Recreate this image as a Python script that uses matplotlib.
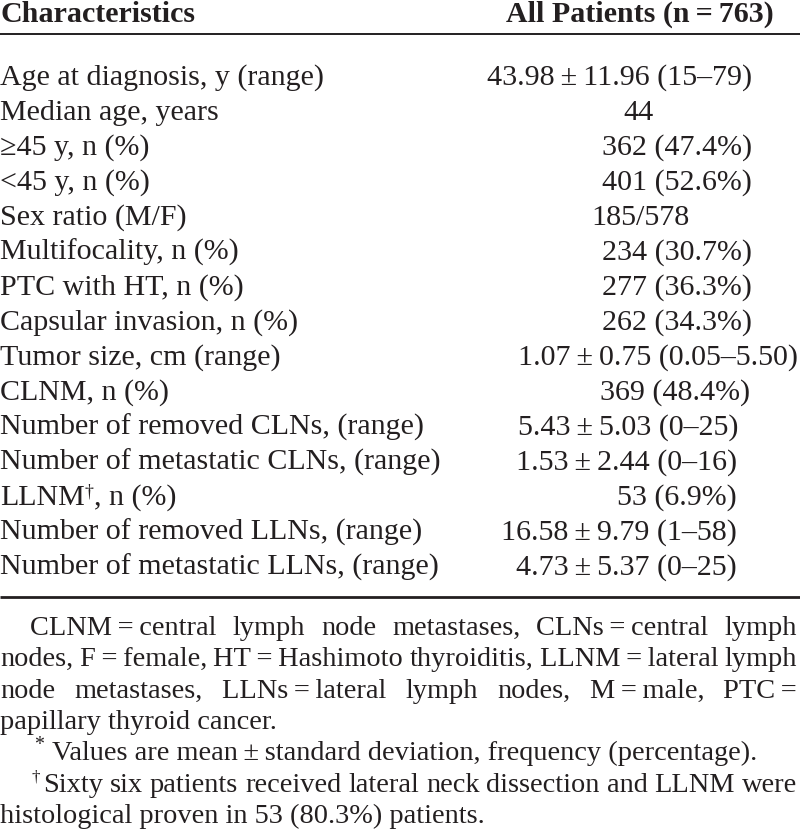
import matplotlib
matplotlib.use('Agg')
import matplotlib.pyplot as plt

plt.rcParams['font.family'] = ['Liberation Serif', 'DejaVu Serif']

INK = '#231f20'

# 表格内容
header_left = 'Characteristics'
header_right = 'All Patients (n\u2009=\u2009763)'

characteristics = [
    'Age at diagnosis, y (range)',
    'Median age, years',
    '\u226545 y, n (%)',
    '<45 y, n (%)',
    'Sex ratio (M/F)',
    'Multifocality, n (%)',
    'PTC with HT, n (%)',
    'Capsular invasion, n (%)',
    'Tumor size, cm (range)',
    'CLNM, n (%)',
    'Number of removed CLNs, (range)',
    'Number of metastatic CLNs, (range)',
    'LLNM\u2020, n (%)',
    'Number of removed LLNs, (range)',
    'Number of metastatic LLNs, (range)',
]

values = [
    '43.98\u2009\u00b1\u200911.96 (15\u201379)',
    '44',
    '362 (47.4%)',
    '401 (52.6%)',
    '185/578',
    '234 (30.7%)',
    '277 (36.3%)',
    '262 (34.3%)',
    '1.07\u2009\u00b1\u20090.75 (0.05\u20135.50)',
    '369 (48.4%)',
    '5.43\u2009\u00b1\u20095.03 (0\u201325)',
    '1.53\u2009\u00b1\u20092.44 (0\u201316)',
    '53 (6.9%)',
    '16.58\u2009\u00b1\u20099.79 (1\u201358)',
    '4.73\u2009\u00b1\u20095.37 (0\u201325)',
]

footnote_abbrev = [
    'CLNM\u2009=\u2009central lymph node metastases, CLNs\u2009=\u2009central lymph',
    'nodes, F\u2009=\u2009female, HT\u2009=\u2009Hashimoto thyroiditis, LLNM\u2009=\u2009lateral lymph',
    'node metastases, LLNs\u2009=\u2009lateral lymph nodes, M\u2009=\u2009male, PTC\u2009=',
    'papillary thyroid cancer.',
]
footnote_star = 'Values are mean\u2009\u00b1\u2009standard deviation, frequency (percentage).'
footnote_dagger = [
    'Sixty six patients received lateral neck dissection and LLNM were',
    'histological proven in 53 (80.3%) patients.',
]

# 版面参数（像素）
W, H = 800, 830
FS = 21.6
FS_NOTE = 20.4
row_y0, row_dy = 85, 35.0
note_y0, note_dy = 635, 31.3
# 数值列的对齐位置
value_anchor = [(752, 'right'), (639, 'center'), (752, 'right'), (752, 'right'),
                (640, 'center'), (752, 'right'), (752, 'right'), (752, 'right'),
                (798, 'right'), (750, 'right'), (739, 'right'), (737, 'right'),
                (737, 'right'), (737, 'right'), (737, 'right')]

fig = plt.figure(figsize=(W / 100, H / 100), dpi=100)
ax = fig.add_axes([0, 0, 1, 1])
ax.set_xlim(0, W)
ax.set_ylim(H, 0)
ax.axis('off')
renderer = fig.canvas.get_renderer()


def width_of(t):
    return t.get_window_extent(renderer).width


def text_with_sup(x, y, s, fs):
    # 处理 † 上标
    parts = s.split('\u2020')
    cx = x
    for i, p in enumerate(parts):
        t = ax.text(cx, y, p, fontsize=fs, color=INK, va='baseline', ha='left')
        cx += width_of(t)
        if i < len(parts) - 1:
            t2 = ax.text(cx, y - 9, '\u2020', fontsize=fs * 0.6, color=INK,
                         va='baseline', ha='left')
            cx += width_of(t2)


def justified(words, y, x0, x1, fs):
    ts = [ax.text(0, y, w, fontsize=fs, color=INK, va='baseline', ha='left')
          for w in words]
    ws = [width_of(t) for t in ts]
    gap = (x1 - x0 - sum(ws)) / (len(ws) - 1)
    cx = x0
    for t, w in zip(ts, ws):
        t.set_x(cx)
        cx += w + gap


# 表头
ax.text(0, 22, header_left, fontsize=FS, fontweight='bold', color=INK,
        va='baseline', ha='left')
ax.text(774, 22, header_right, fontsize=FS, fontweight='bold', color=INK,
        va='baseline', ha='right')
ax.plot([0, 800], [34, 34], color=INK, lw=1.4, solid_capstyle='butt')

# 表体
for i, (lab, val) in enumerate(zip(characteristics, values)):
    y = row_y0 + i * row_dy
    text_with_sup(0, y, lab, FS)
    vx, ha = value_anchor[i]
    ax.text(vx, y, val, fontsize=FS, color=INK, va='baseline', ha=ha)

ax.plot([0, 800], [597, 597], color=INK, lw=2.0, solid_capstyle='butt')

# 脚注
y = note_y0
justified(footnote_abbrev[0].split(' '), y, 30, 797, FS_NOTE)
y += note_dy
justified(footnote_abbrev[1].split(' '), y, 0, 797, FS_NOTE)
y += note_dy
justified(footnote_abbrev[2].split(' '), y, 0, 797, FS_NOTE)
y += note_dy
ax.text(0, y, footnote_abbrev[3], fontsize=FS_NOTE, color=INK, va='baseline')
y += note_dy
ax.text(34, y - 10, '*', fontsize=FS_NOTE * 0.7, color=INK, va='baseline')
ax.text(52, y, footnote_star, fontsize=FS_NOTE, color=INK, va='baseline')
y += note_dy
ax.text(32, y - 10, '\u2020', fontsize=FS_NOTE * 0.6, color=INK, va='baseline')
justified(footnote_dagger[0].split(' '), y, 43, 797, FS_NOTE)
y += note_dy
ax.text(0, y, footnote_dagger[1], fontsize=FS_NOTE, color=INK, va='baseline')

fig.savefig('out.png', dpi=100)
